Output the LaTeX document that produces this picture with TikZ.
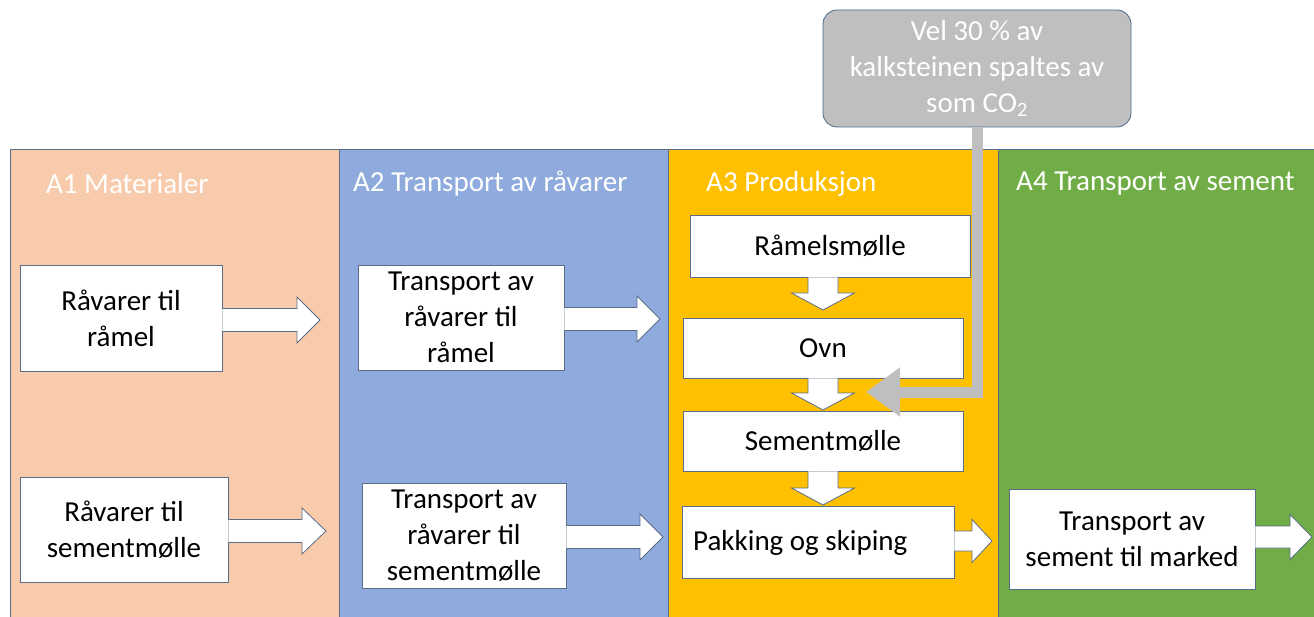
\documentclass[tikz,border=0pt]{standalone}
\usepackage{fontspec}
\setmainfont{Carlito}
\usetikzlibrary{calc,arrows.meta}
\definecolor{peach}{HTML}{F8CBAD}
\definecolor{lblue}{HTML}{8FAADC}
\definecolor{gold}{HTML}{FFC000}
\definecolor{lgreen}{HTML}{70AD47}
\definecolor{edge}{HTML}{5A6C86}
\definecolor{callgray}{HTML}{BFBFBF}
\definecolor{calledge}{HTML}{4A6A8E}
\tikzset{
  panel/.style={draw=edge,line width=0.8pt},
  ptitle/.style={anchor=west,inner sep=0pt,text=white,font=\fontsize{29}{36}\selectfont},
  box/.style={draw=edge,line width=0.8pt,fill=white,inner sep=0pt,align=center,font=\fontsize{29}{36}\selectfont},
  barrow/.style={draw=edge,line width=0.8pt,fill=white,line join=miter},
  grayline/.style={draw=callgray,line width=11pt,line join=miter,-{Triangle[length=34pt,width=47pt]}},
  callout/.style={draw=calledge,line width=0.8pt,fill=callgray,rounded corners=14pt,inner sep=0pt,align=center,text=white,font=\fontsize{29}{36}\selectfont}
}
% horizontal block arrow: #1 start node anchor, #2 tip coordinate, #3 shaft half, #4 head half, #5 head length
\newcommand\harr[5]{%
  \filldraw[barrow] let \p1=(#1), \p2=(#2) in
    (\x1,\y1+#3pt) -- (\x2-#5pt,\y1+#3pt) -- (\x2-#5pt,\y1+#4pt) -- (\x2,\y1)
    -- (\x2-#5pt,\y1-#4pt) -- (\x2-#5pt,\y1-#3pt) -- (\x1,\y1-#3pt);}
% vertical block arrow: #1 start node anchor, #2 tip coordinate
\newcommand\varr[2]{%
  \filldraw[barrow] let \p1=(#1), \p2=(#2) in
    (\x2-15pt,\y1) -- (\x2-15pt,\y2+17pt) -- (\x2-31.5pt,\y2+17pt) -- (\x2,\y2)
    -- (\x2+31.5pt,\y2+17pt) -- (\x2+15pt,\y2+17pt) -- (\x2+15pt,\y1);}
\begin{document}
\begin{tikzpicture}[x=1pt,y=-1pt]
\useasboundingbox (0,0) rectangle (1314,617);
\clip (0,0) rectangle (1314,617);
% panels
\fill[white] (0,0) rectangle (1314,617);
\draw[panel,fill=peach] (10,149) rectangle (339,640);
\draw[panel,fill=lblue] (339,149) rectangle (668,640);
\draw[panel,fill=gold] (668,149) rectangle (998,640);
\draw[panel,fill=lgreen] (998,149) rectangle (1330,640);
\node[ptitle] (t1) at (46,184) {A1 Materialer};
\node[ptitle] (t2) at (353,184) {A2 Transport av råvarer};
\node[ptitle] (t3) at (706,184) {A3 Produksjon};
\node[ptitle] (t4) at (1016,184) {A4 Transport av sement};
% boxes
\node[box,minimum width=202,minimum height=106] (b1) at (121,318) {Råvarer til\\råmel};
\node[box,minimum width=208,minimum height=105] (b2) at (124,529.5) {Råvarer til\\sementmølle};
\node[box,minimum width=206,minimum height=105] (c1) at (461,317.5) {Transport av\\råvarer til\\råmel};
\node[box,minimum width=204,minimum height=105] (c2) at (464,535.5) {Transport av\\råvarer til\\sementmølle};
\node[box,minimum width=280,minimum height=62] (p1) at (830,246) {Råmelsmølle};
\node[box,minimum width=280,minimum height=60] (p2) at (823,348) {Ovn};
\node[box,minimum width=280,minimum height=60] (p3) at (823,441) {Sementmølle};
\node[box,minimum width=272,minimum height=72] (p4) at (818,542) {};
\node[anchor=west,inner sep=0pt,font=\fontsize{29}{36}\selectfont] (p4t) at (693,543) {Pakking og skiping};
\node[box,minimum width=246,minimum height=100] (d1) at (1132,539) {Transport av\\sement til marked};
% tip coordinates
\coordinate (e1) at (320,316);
\coordinate (e2) at (660,316);
\coordinate (e3) at (326,528);
\coordinate (e4) at (663,534);
\coordinate (e5) at (992,543);
\coordinate (e6) at (1312,541);
\coordinate (v1) at (823,310);
\coordinate (v2) at (823,410);
\coordinate (v3) at (823,505);
% block arrows
\harr{$(b1.east)+(0,2)$}{e1}{11.5}{23}{23}
\harr{$(c1.east)+(0,1.5)$}{e2}{11.5}{23}{23}
\harr{$(b2.east)+(0,1.5)$}{e3}{11.5}{23}{24}
\harr{$(c2.east)+(0,1.5)$}{e4}{11.5}{23}{23}
\harr{$(p4.east)+(0,-1)$}{e5}{10}{21.5}{20}
\harr{$(d1.east)+(0,-2)$}{e6}{11}{22.5}{22}
\varr{p1.south}{v1}
\varr{p2.south}{v2}
\varr{p3.south}{v3}
% callout and gray arrow
\node[callout,minimum width=308,minimum height=117] (call) at (977,68.5) {Vel 30 \% av\\kalksteinen spaltes av\\som CO\textsubscript{2}};
\coordinate (g1) at (977,392);
\coordinate (gtip) at (866,392);
\draw[grayline] (call.south) -- (g1) -- (gtip);
\end{tikzpicture}
\end{document}
